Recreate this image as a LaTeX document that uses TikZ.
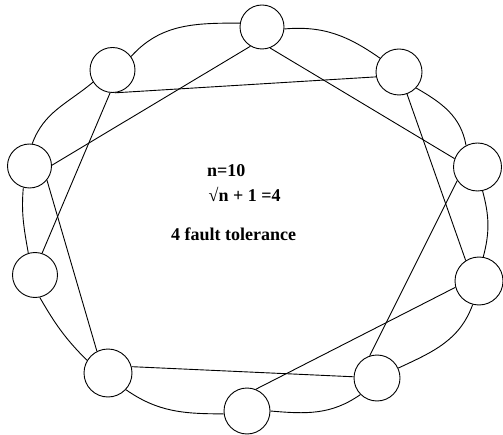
\documentclass[tikz,border=0pt]{standalone}
\usepackage{fontspec}
\setmainfont{Liberation Serif}
\begin{document}
\begin{tikzpicture}[x=1pt,y=1pt,
  peer/.style={draw, circle, line width=0.9pt, inner sep=0pt, minimum size=46pt},
  ring/.style={line width=0.9pt},
  chord/.style={line width=0.9pt},
  lbl/.style={anchor=base west, inner sep=0pt, font=\fontsize{18}{20}\selectfont\bfseries}]
\useasboundingbox (0,0) rectangle (503,434);
% peers
\node[peer, minimum size=44pt] (A) at (262,407) {};
\node[peer, minimum size=45pt] (B) at (112.5,364) {};
\node[peer] (C) at (399,362) {};
\node[peer, minimum size=44pt] (D) at (29.5,268) {};
\node[peer, minimum size=48pt] (E) at (477.5,267) {};
\node[peer, minimum size=45pt] (F) at (35,159) {};
\node[peer, minimum size=48pt] (G) at (479,153) {};
\node[peer, minimum size=48pt] (H) at (108,61) {};
\node[peer] (I) at (377,56) {};
\node[peer] (J) at (247,23) {};
% ring
\draw[ring] (B.36) to[out=48,in=180] (A.170);
\draw[ring] (A.-5) to[out=5,in=145] (C.144);
\draw[ring] (C.-43) to[out=-30,in=100] (E.118);
\draw[ring] (E.-78) to[out=-75,in=75] (G.80);
\draw[ring] (G.-105) to[out=-110,in=25] (I.25);
\draw[ring] (I.-135) to[out=-145,in=-5] (J.0);
\draw[ring] (J.187) to[out=180,in=-35] (H.-43);
\draw[ring] (H.149) to[out=135,in=-60] (F.-78);
\draw[ring] (F.107) to[out=100,in=-95] (D.-106);
\draw[ring] (D.83) to[out=70,in=-140] (B.-148);
% chords
\draw[chord] (A.-121) -- (D.2);
\draw[chord] (A.-69) -- (E.160);
\draw[chord] (B.-84) -- (C.192);
\draw[chord] (B.-96) -- (F.72);
\draw[chord] (D.-39) -- (H.117);
\draw[chord] (C.-70) -- (G.123);
\draw[chord] (E.-146) -- (I.108);
\draw[chord] (G.195) -- (J.68);
\draw[chord] (H.15) -- (I.177);
% labels
\node[lbl] (t1) at (207,257) {n=10};
\node[lbl] (t2) at (208.5,232) {√n + 1 =4};
\node[lbl] (t3) at (171,193) {4 fault tolerance};
\end{tikzpicture}
\end{document}
